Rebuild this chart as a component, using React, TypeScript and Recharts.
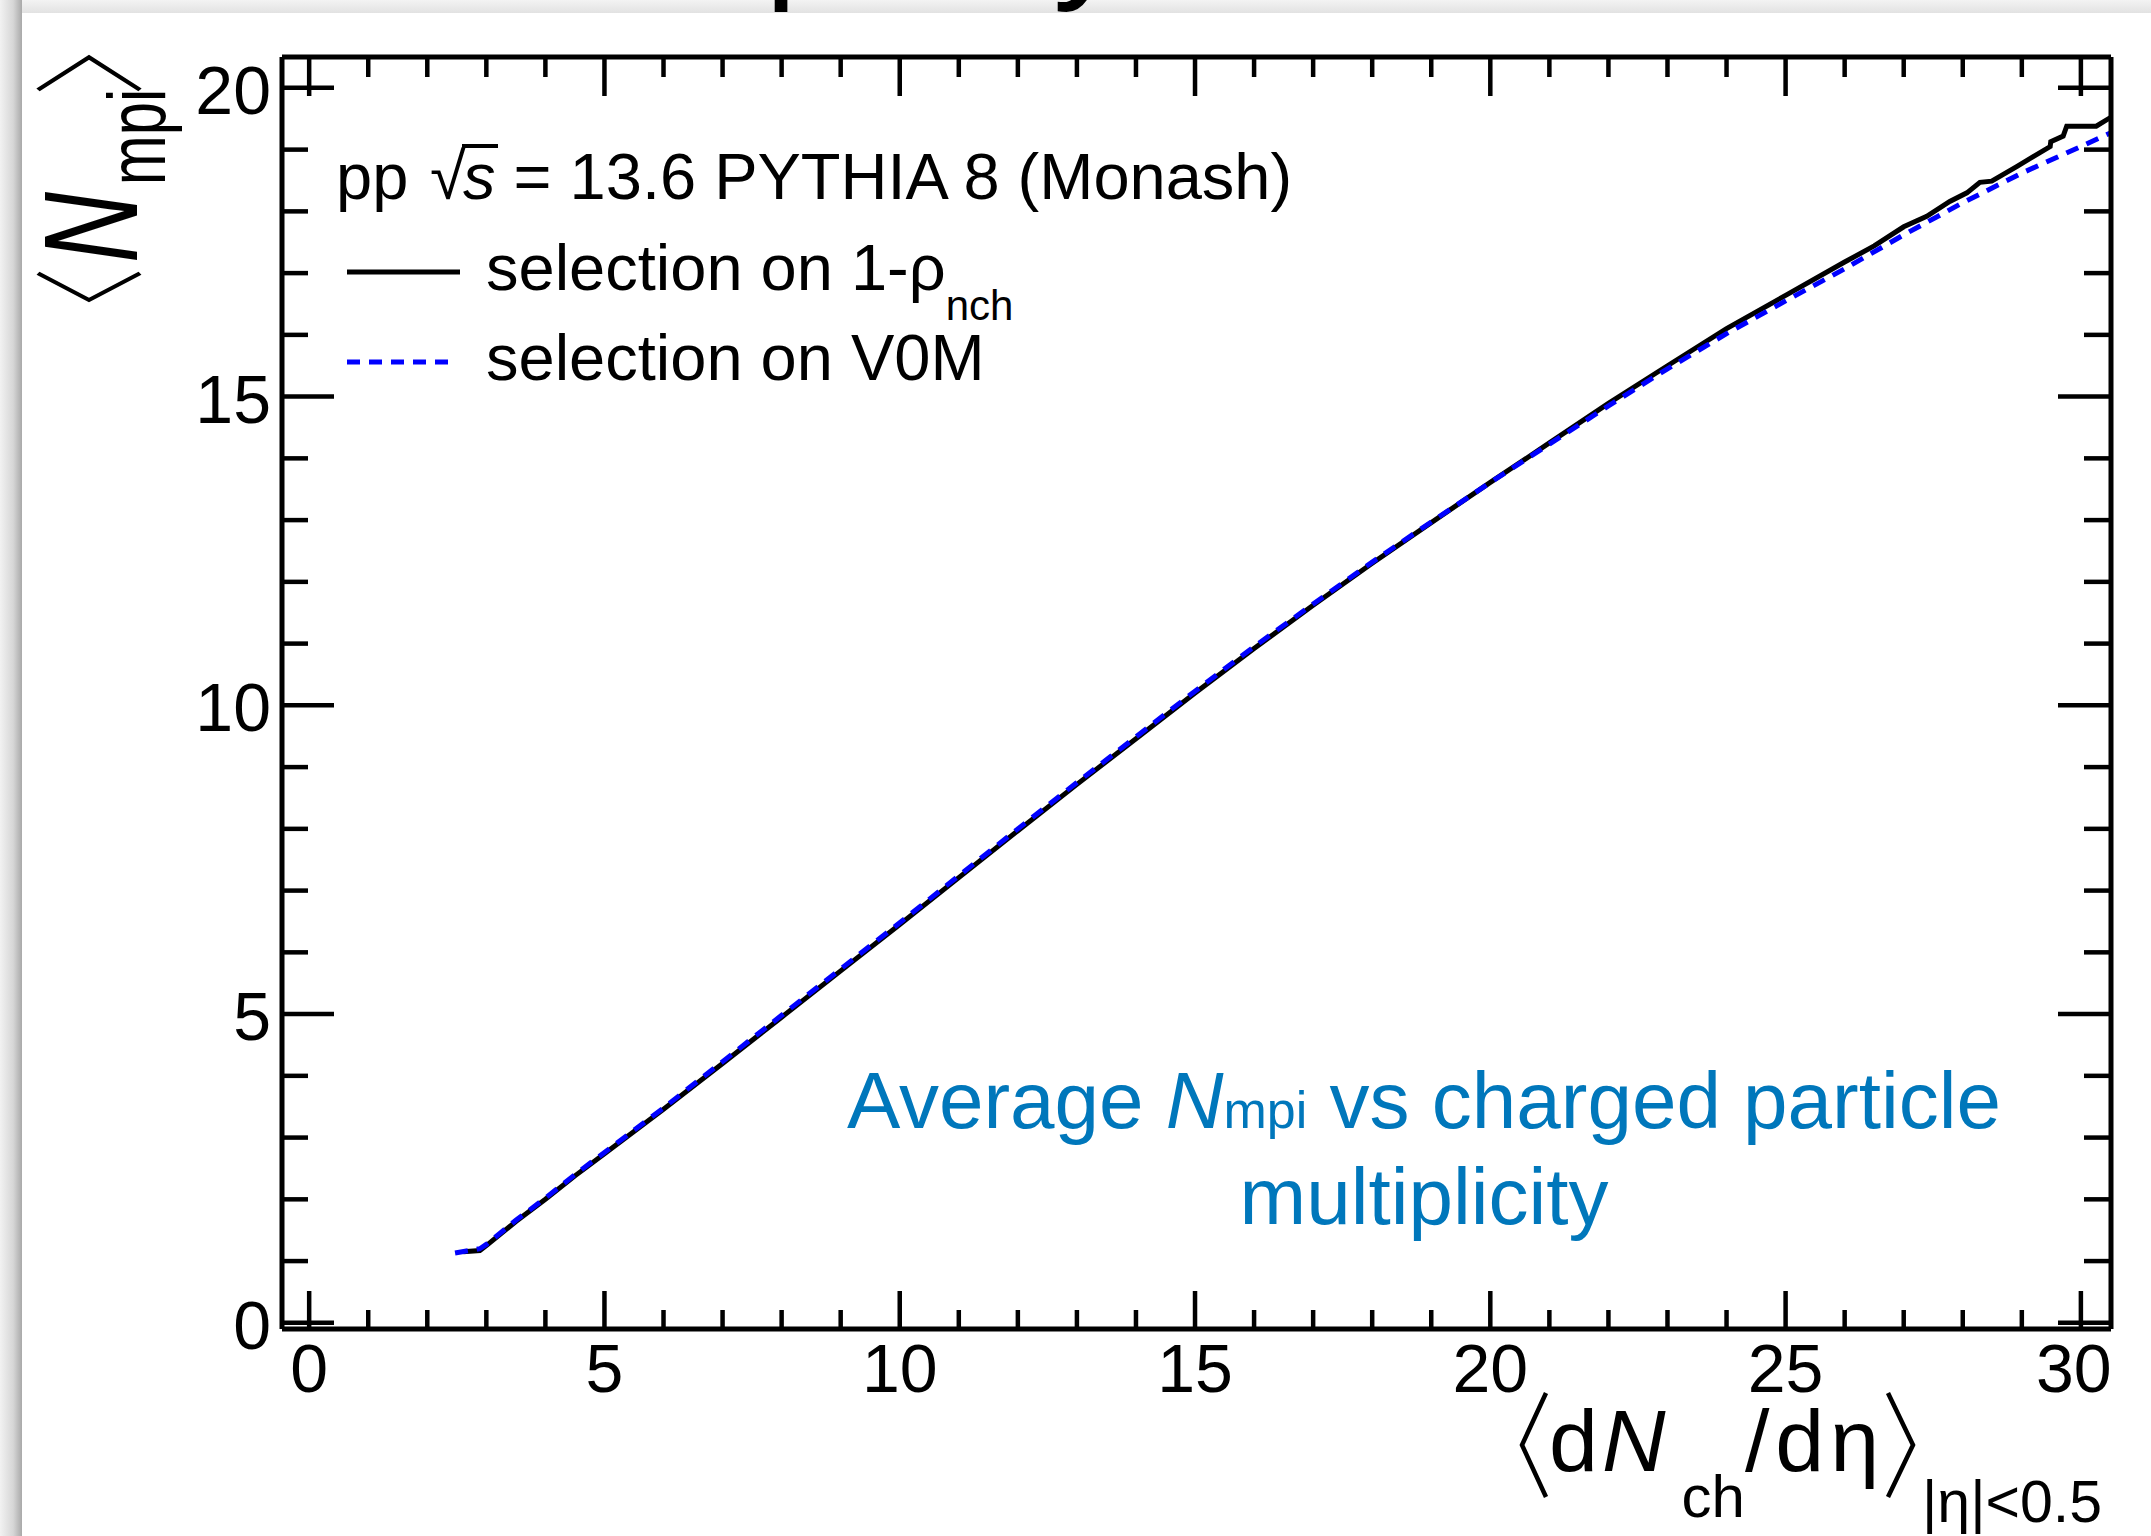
import React from "react";
import { Legend, Line, LineChart, XAxis, YAxis } from "recharts";

const FONT = "'Liberation Sans', Arial, Helvetica, sans-serif";

// <dNch/deta> (x) and <Nmpi> (y), selection on 1-rho_nch
const rhoX = [2.61, 2.89, 3.0, 3.5, 4.0, 4.5, 5.0, 5.5, 6.0, 7.0, 8.0, 9.0, 10.0, 11.0, 12.0, 13.0, 14.0, 15.0, 16.0, 17.0, 18.0, 19.0, 20.0, 21.0, 22.0, 23.0, 24.0, 25.0, 26.0, 26.5, 27.0, 27.39, 27.78, 28.07, 28.29, 28.49, 28.92, 29.48, 29.49, 29.7, 29.76, 30.26, 30.5];
const rhoY = [1.15, 1.17, 1.25, 1.64, 2.0, 2.38, 2.74, 3.1, 3.46, 4.2, 4.95, 5.7, 6.45, 7.21, 7.97, 8.72, 9.46, 10.2, 10.92, 11.62, 12.3, 12.96, 13.61, 14.25, 14.89, 15.5, 16.1, 16.64, 17.18, 17.44, 17.75, 17.92, 18.16, 18.3, 18.47, 18.49, 18.73, 19.05, 19.13, 19.22, 19.38, 19.38, 19.52];

// selection on V0M
const v0mX = [2.47, 2.89, 3.0, 3.5, 4.0, 4.5, 5.0, 5.5, 6.0, 7.0, 8.0, 9.0, 10.0, 11.0, 12.0, 13.0, 14.0, 15.0, 16.0, 17.0, 18.0, 19.0, 20.0, 21.0, 22.0, 23.0, 24.0, 25.0, 26.0, 27.0, 28.0, 29.0, 30.0, 30.5];
const v0mY = [1.13, 1.2, 1.27, 1.66, 2.02, 2.4, 2.76, 3.12, 3.48, 4.23, 4.98, 5.73, 6.48, 7.24, 8.0, 8.75, 9.49, 10.23, 10.95, 11.64, 12.32, 12.97, 13.61, 14.23, 14.85, 15.45, 16.02, 16.55, 17.07, 17.62, 18.14, 18.62, 19.05, 19.27];

const xTicks = [0, 1, 2, 3, 4, 5, 6, 7, 8, 9, 10, 11, 12, 13, 14, 15, 16, 17, 18, 19, 20, 21, 22, 23, 24, 25, 26, 27, 28, 29, 30];
const yTicks = [0, 1, 2, 3, 4, 5, 6, 7, 8, 9, 10, 11, 12, 13, 14, 15, 16, 17, 18, 19, 20];
const majorLabels = [0, 5, 10, 15, 20, 25, 30];

const rhoData = rhoX.map((x, i) => ({ x, y: rhoY[i] }));
const v0mData = v0mX.map((x, i) => ({ x, y: v0mY[i] }));

const TW = 4.5;
const isMajor = (v: number) => majorLabels.includes(v);

function BottomTick({ x, y, payload }: any) {
  const major = isMajor(payload.value);
  // ROOT pulls the last label back inside the frame
  const dx = payload.value === 30 ? -7 : 0;
  return (
    <g>
      <line x1={x} x2={x} y1={y} y2={y - (major ? 38 : 19)} stroke="#000" strokeWidth={TW} />
      {major && (
        <text x={x + dx} y={y + 63} textAnchor="middle" fontSize={68} fontFamily={FONT} fill="#000">
          {payload.value}
        </text>
      )}
    </g>
  );
}

function TopTick({ x, y, payload }: any) {
  const major = isMajor(payload.value);
  return <line x1={x} x2={x} y1={y} y2={y + (major ? 39 : 20)} stroke="#000" strokeWidth={TW} />;
}

function LeftTick({ x, y, payload }: any) {
  const major = isMajor(payload.value);
  return (
    <g>
      <line x1={x} x2={x + (major ? 52 : 26)} y1={y} y2={y} stroke="#000" strokeWidth={TW} />
      {major && (
        <text x={x - 11} y={y + 26} textAnchor="end" fontSize={68} fontFamily={FONT} fill="#000">
          {payload.value}
        </text>
      )}
    </g>
  );
}

function RightTick({ x, y, payload }: any) {
  const major = isMajor(payload.value);
  return <line x1={x} x2={x - (major ? 53 : 27)} y1={y} y2={y} stroke="#000" strokeWidth={TW} />;
}

function XTitle() {
  return (
    <g fontFamily={FONT} fill="#000">
      <path d="M1546,1393 L1522,1445 L1546,1497" fill="none" stroke="#000" strokeWidth={4.5} />
      <text x={1549} y={1471} fontSize={88}>
        d
        <tspan fontStyle="italic" dx={4}>N</tspan>
        <tspan fontSize={60} dx={16} dy={46}>ch</tspan>
        <tspan fontSize={88} dy={-46} letterSpacing={6}>/dη</tspan>
      </text>
      <path d="M1888,1393 L1913,1445 L1888,1497" fill="none" stroke="#000" strokeWidth={4.5} />
      <text x={1922} y={1522} fontSize={59}>|η|&lt;0.5</text>
    </g>
  );
}

function YTitle() {
  return (
    <g transform="translate(137,300) rotate(-90) scale(0.74,1)" fontFamily={FONT} fill="#000">
      <path d="M36,-99 L0,-48 L36,3" fill="none" stroke="#000" strokeWidth={5} />
      <text x={50} y={0} fontSize={133}>
        <tspan fontStyle="italic">N</tspan>
        <tspan x={155} y={28} fontSize={81}>mpi</tspan>
      </text>
      <path d="M284,-99 L328,-48 L284,3" fill="none" stroke="#000" strokeWidth={5} />
    </g>
  );
}

function LegendBox({ payload }: any) {
  const items = payload || [];
  const first = items[0];
  const second = items[1];
  return (
    <svg width={1400} height={420} style={{ display: "block" }} fontFamily={FONT}>
      <text x={336} y={199} fontSize={65} fill="#000">
        pp
        <tspan x={430}>√</tspan>
        <tspan x={463} fontStyle="italic">s</tspan> = 13.6 PYTHIA 8 (Monash)
      </text>
      <line x1={462} x2={498} y1={146} y2={146} stroke="#000" strokeWidth={4} />
      {first && (
        <g>
          <line x1={347} x2={460} y1={272} y2={272} stroke={first.color} strokeWidth={5} />
          <text x={486} y={290} fontSize={65} fill="#000">
            selection on 1-ρ
            <tspan fontSize={42} dy={30}>nch</tspan>
          </text>
        </g>
      )}
      {second && (
        <g>
          <line x1={347} x2={449} y1={362} y2={362} stroke={second.color} strokeWidth={5} strokeDasharray="13 9" />
          <text x={486} y={380} fontSize={65} fill="#000">
            {second.value}
          </text>
        </g>
      )}
    </svg>
  );
}

export default function App() {
  return (
    <div style={{ position: "absolute", left: 0, top: 0, width: 2151, height: 1536, background: "#fff", overflow: "hidden" }}>
      <div
        style={{
          position: "absolute",
          left: 0,
          top: 0,
          width: 2151,
          height: 13,
          overflow: "hidden",
          background: "linear-gradient(to bottom, #f3f3f3, #e2e2e2)",
        }}
      >
        <svg width={2151} height={13} style={{ display: "block" }}>
          <text x={461} y={-18} fontSize={144} fontFamily={FONT} fill="#000">
            multiplicity
          </text>
        </svg>
      </div>
      <div
        style={{
          position: "absolute",
          left: 0,
          top: 0,
          width: 22,
          height: 1536,
          background: "linear-gradient(to right, #f2f2f2, #d6d6d6 60%, #a9a9a9)",
        }}
      />
      <div style={{ position: "absolute", left: 0, top: 0 }}>
        <LineChart width={2151} height={1536} margin={{ top: 0, right: 0, bottom: 0, left: 0 }}>
          <XAxis
            xAxisId="bottom"
            orientation="bottom"
            type="number"
            dataKey="x"
            domain={[-0.46, 30.51]}
            allowDataOverflow
            ticks={xTicks}
            interval={0}
            height={207}
            tickSize={0}
            tickMargin={0}
            tickLine={false}
            axisLine={{ stroke: "#000", strokeWidth: 5 }}
            tick={<BottomTick />}
            label={{ content: () => <XTitle /> }}
          />
          <XAxis
            xAxisId="top"
            orientation="top"
            type="number"
            dataKey="x"
            domain={[-0.46, 30.51]}
            allowDataOverflow
            ticks={xTicks}
            interval={0}
            height={57}
            tickSize={0}
            tickMargin={0}
            tickLine={false}
            axisLine={{ stroke: "#000", strokeWidth: 5 }}
            tick={<TopTick />}
          />
          <YAxis
            yAxisId="left"
            orientation="left"
            type="number"
            domain={[-0.1, 20.5]}
            allowDataOverflow
            ticks={yTicks}
            interval={0}
            width={282}
            tickSize={0}
            tickMargin={0}
            tickLine={false}
            axisLine={{ stroke: "#000", strokeWidth: 5 }}
            tick={<LeftTick />}
            label={{ content: () => <YTitle /> }}
          />
          <YAxis
            yAxisId="right"
            orientation="right"
            type="number"
            domain={[-0.1, 20.5]}
            allowDataOverflow
            ticks={yTicks}
            interval={0}
            width={40}
            tickSize={0}
            tickMargin={0}
            tickLine={false}
            axisLine={{ stroke: "#000", strokeWidth: 5 }}
            tick={<RightTick />}
          />
          <Legend
            layout="horizontal"
            verticalAlign="middle"
            align="center"
            wrapperStyle={{ left: 0, top: 0, width: 1400, height: 420 }}
            content={<LegendBox />}
          />
          <Line
            xAxisId="bottom"
            yAxisId="left"
            data={rhoData}
            dataKey="y"
            name="selection on 1-ρnch"
            type="linear"
            stroke="#000000"
            strokeWidth={5}
            dot={false}
            activeDot={false}
            isAnimationActive={false}
          />
          <Line
            xAxisId="bottom"
            yAxisId="left"
            data={v0mData}
            dataKey="y"
            name="selection on V0M"
            type="linear"
            stroke="#0000ff"
            strokeWidth={5}
            strokeDasharray="13 9"
            dot={false}
            activeDot={false}
            isAnimationActive={false}
          />
        </LineChart>
      </div>
      <svg
        width={2151}
        height={1536}
        style={{ position: "absolute", left: 0, top: 0, pointerEvents: "none" }}
        fontFamily={FONT}
      >
        <text x={1424} y={1128} textAnchor="middle" fontSize={80} fill="#0077bb">
          Average <tspan fontStyle="italic">N</tspan>
          <tspan fontSize={52}>mpi</tspan> vs charged particle
        </text>
        <text x={1424} y={1224} textAnchor="middle" fontSize={80} fill="#0077bb">
          multiplicity
        </text>
      </svg>
    </div>
  );
}
